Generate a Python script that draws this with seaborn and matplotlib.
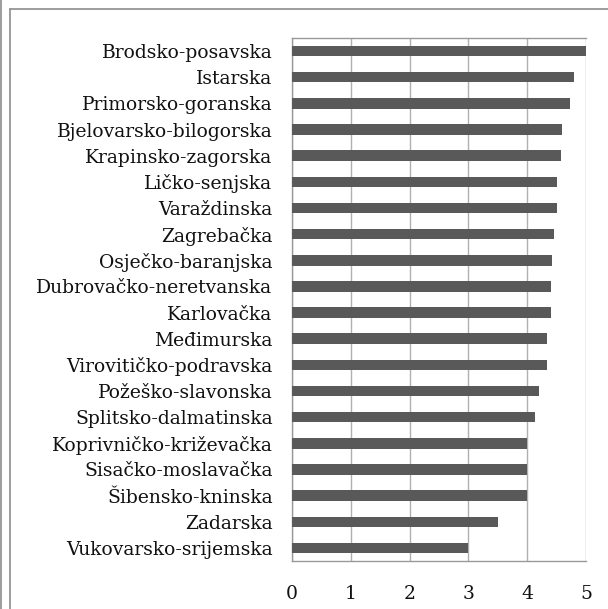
import matplotlib
matplotlib.use("Agg")
import matplotlib.pyplot as plt
from matplotlib.lines import Line2D
import seaborn as sns
import pandas as pd
import numpy as np

# counties and their scores
counties = [
    "Brodsko-posavska", "Istarska", "Primorsko-goranska", "Bjelovarsko-bilogorska",
    "Krapinsko-zagorska", "Ličko-senjska", "Varaždinska", "Zagrebačka",
    "Osječko-baranjska", "Dubrovačko-neretvanska", "Karlovačka", "Međimurska",
    "Virovitičko-podravska", "Požeško-slavonska", "Splitsko-dalmatinska",
    "Koprivničko-križevačka", "Sisačko-moslavačka", "Šibensko-kninska",
    "Zadarska", "Vukovarsko-srijemska",
]
scores = [5.0, 4.8, 4.72, 4.6, 4.57, 4.5, 4.5, 4.45, 4.43, 4.4,
          4.4, 4.33, 4.33, 4.2, 4.13, 4.0, 4.0, 4.0, 3.5, 3.0]
x_ticks = [0, 1, 2, 3, 4, 5]

df = pd.DataFrame({"county": counties, "score": scores})

sns.set_style("white")
plt.rcParams["font.family"] = ["DejaVu Serif"]

fig = plt.figure(figsize=(6.08, 6.09), dpi=100)
ax = fig.add_axes([292 / 608, 1 - 561 / 609, (586 - 292) / 608, (561 - 38) / 609])

sns.barplot(data=df, x="score", y="county", orient="h", color="#595959",
            saturation=1, width=0.4, linewidth=0, ax=ax, zorder=3)

ax.set_xlim(0, 5)
ax.set_ylim(len(counties) - 0.5, -0.5)
ax.set_xticks(x_ticks)
ax.set_xticklabels([str(t) for t in x_ticks], fontsize=13.5, color="#111111")
ax.set_xlabel("")
ax.set_ylabel("")
for lbl in ax.get_yticklabels():
    lbl.set_color("#111111")
ax.tick_params(axis="y", length=0, pad=14, labelsize=13.5)
ax.set_yticks(np.arange(-0.5, len(counties), 1), minor=True)
ax.tick_params(axis="y", which="minor", length=6, color="#999999", width=1)
ax.tick_params(axis="x", length=6, color="#999999", width=1, pad=11)

ax.grid(axis="x", color="#b0b0b0", linewidth=1, zorder=0)
ax.grid(axis="y", visible=False)
for side in ["left", "bottom", "top"]:
    ax.spines[side].set_color("#999999")
    ax.spines[side].set_linewidth(1)
ax.spines["right"].set_visible(False)

# outer frame like the original export
fig.add_artist(Line2D([10 / 608, 10 / 608], [0, 1 - 9 / 609], transform=fig.transFigure,
                      color="#8c8c8c", linewidth=1.2))
fig.add_artist(Line2D([10 / 608, 1], [1 - 9 / 609, 1 - 9 / 609], transform=fig.transFigure,
                      color="#8c8c8c", linewidth=1.2))
fig.add_artist(Line2D([1 / 608, 1 / 608], [0, 1], transform=fig.transFigure,
                      color="#8c8c8c", linewidth=1.2))

fig.savefig("out.png", dpi=100)
